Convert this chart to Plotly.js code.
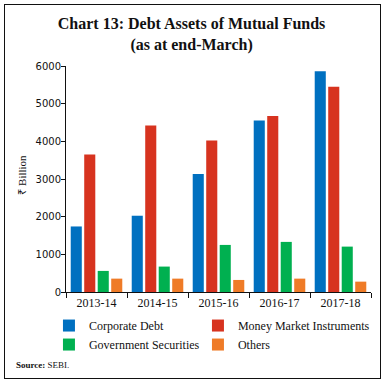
<!DOCTYPE html>
<html>
<head>
<meta charset="utf-8">
<script src="https://cdn.plot.ly/plotly-3.0.1.min.js"></script>
<style>
  html, body { margin: 0; padding: 0; background: #fff; }
  #wrap { position: relative; width: 387px; height: 384px; }
  #chart { width: 387px; height: 384px; }
  #frame { position: absolute; left: 4px; top: 4px; width: 375px; height: 373px;
           border: 1.5px solid #111; pointer-events: none; }
</style>
</head>
<body>
<div id="wrap"><div id="chart"></div><div id="frame"></div></div>
<script>
const categories = ["2013-14", "2014-15", "2015-16", "2016-17", "2017-18"];
const corporateDebt = [1740, 2025, 3135, 4555, 5860];
const moneyMarket = [3650, 4420, 4020, 4670, 5450];
const govtSecurities = [560, 675, 1250, 1330, 1205];
const others = [355, 355, 320, 355, 275];
const seriesNames = ["Corporate Debt", "Money Market Instruments", "Government Securities", "Others"];
const seriesColors = ["#0070C0", "#D7331F", "#00B050", "#EF7B27"];
const seriesLegend = ["legend", "legend2", "legend", "legend2"];
const yTicks = [0, 1000, 2000, 3000, 4000, 5000, 6000];

const allValues = [corporateDebt, moneyMarket, govtSecurities, others];
const traces = allValues.map((vals, i) => ({
  type: "bar",
  name: seriesNames[i],
  x: categories,
  y: vals,
  legend: seriesLegend[i],
  marker: { color: seriesColors[i] },
  hoverinfo: "x+y+name"
}));

const serif = "Liberation Serif, Times New Roman, serif";
const legendBase = {
  orientation: "v",
  yref: "container", y: 0.19, yanchor: "top",
  xref: "container", xanchor: "left",
  font: { family: serif, size: 12, color: "#111" },
  itemwidth: 30,
  traceorder: "normal",
  bgcolor: "rgba(0,0,0,0)"
};
const layout = {
  width: 387, height: 384,
  margin: { l: 66, r: 16, t: 66, b: 92, autoexpand: false },
  paper_bgcolor: "#fff", plot_bgcolor: "#fff",
  barmode: "group",
  bargap: 0.115,
  bargroupgap: 0.18,
  title: {
    text: "<b>Chart 13: Debt Assets of Mutual Funds</b><br><b>(as at end-March)</b>",
    font: { family: serif, size: 16, color: "#111" },
    x: 0.495, xanchor: "center", xref: "container",
    y: 0.925, yanchor: "top", yref: "container"
  },
  xaxis: {
    type: "category",
    showline: true, linecolor: "#111", linewidth: 1,
    ticks: "outside", ticklen: 5, tickcolor: "#111",
    tickson: "boundaries",
    tickfont: { family: serif, size: 12, color: "#111" },
    showgrid: false, zeroline: false
  },
  yaxis: {
    range: [0, 6000],
    tickvals: yTicks,
    ticktext: yTicks.map(String),
    showline: true, linecolor: "#111", linewidth: 1,
    ticks: "outside", ticklen: 4, tickcolor: "#111",
    ticklabelstandoff: -2,
    tickfont: { family: "DejaVu Sans, Verdana, sans-serif", size: 10, color: "#111" },
    showgrid: false, zeroline: false
  },
  showlegend: true,
  legend: Object.assign({}, legendBase, { x: 0.1265 }),
  legend2: Object.assign({}, legendBase, { x: 0.5115 }),
  annotations: [
    {
      text: "₹ Billion",
      xref: "paper", yref: "paper",
      x: -0.145, y: 0.518, xanchor: "center", yanchor: "middle",
      textangle: -90, showarrow: false,
      font: { family: serif, size: 11, color: "#111" }
    },
    {
      text: "<b>Source:</b> SEBI.",
      xref: "paper", yref: "paper",
      x: -0.17, y: -0.323, xanchor: "left", yanchor: "middle",
      showarrow: false,
      font: { family: serif, size: 9, color: "#111" }
    }
  ]
};

Plotly.newPlot("chart", traces, layout, { displayModeBar: false, staticPlot: true });
</script>
</body>
</html>
